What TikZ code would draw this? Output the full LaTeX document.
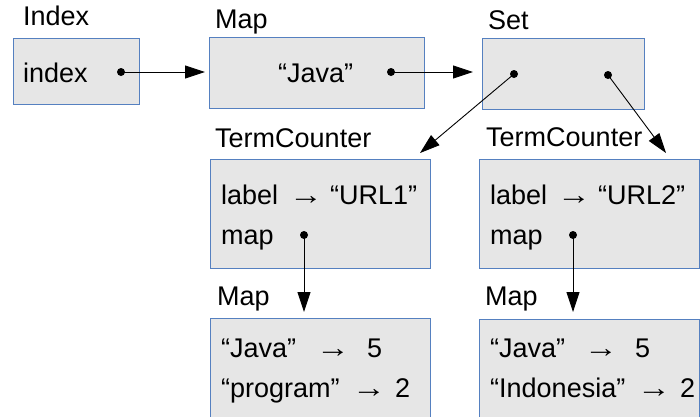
\documentclass[tikz,border=0pt]{standalone}
\usepackage{fontspec}
\setmainfont{Liberation Sans}
\usetikzlibrary{arrows.meta}
\definecolor{boxfill}{HTML}{E6E6E6}
\definecolor{boxline}{HTML}{5580C0}
\newcommand{\rarr}{\scalebox{1.25}[1.05]{→}}
\tikzset{
  objbox/.style={draw=boxline, fill=boxfill, line width=0.9pt},
  txt/.style={anchor=base west, inner sep=0pt, font=\fontsize{27}{32}\selectfont},
  ptr/.style={line width=0.9pt, -{Triangle[length=20pt,width=13pt]}}
}
\begin{document}
\begin{tikzpicture}[x=1pt,y=-1pt]
\useasboundingbox (0,0) rectangle (700,416);
\clip (0,0) rectangle (700,416);
% boxes
\draw[objbox] (13,38) rectangle (139,104);
\draw[objbox] (209,37) rectangle (424,108);
\draw[objbox] (482,38) rectangle (644,109);
\draw[objbox] (210,159) rectangle (430,268);
\draw[objbox] (479,159) rectangle (699,268);
\draw[objbox] (210,318) rectangle (430,440);
\draw[objbox] (479,319) rectangle (699,440);
% titles
\node[txt] (tIndex) at (23,25) {Index};
\node[txt] (tMap) at (215,28) {Map};
\node[txt] (tSet) at (488,29) {Set};
\node[txt] (tTC1) at (215,147) {TermCounter};
\node[txt] (tTC2) at (486,146) {TermCounter};
\node[txt] (tMap1) at (217,305) {Map};
\node[txt] (tMap2) at (485,305) {Map};
% contents
\node[txt] (index) at (23,82) {index};
\node[txt] (java) at (278,82) {“Java”};
\node[txt] (lab1) at (221,204) {label};
\node[txt] (arr1) at (289,204) {\rarr};
\node[txt] (url1) at (330,204) {“URL1”};
\node[txt] (map1) at (221,244) {map};
\node[txt] (lab2) at (490,204) {label};
\node[txt] (arr2) at (557,204) {\rarr};
\node[txt] (url2) at (598,204) {“URL2”};
\node[txt] (map2) at (490,244) {map};
\node[txt] (j1) at (221,357) {“Java”};
\node[txt] (a1) at (316,357) {\rarr};
\node[txt] (v1) at (367,357) {5};
\node[txt] (p1) at (221,397) {“program”};
\node[txt] (a2) at (352,397) {\rarr};
\node[txt] (v2) at (395,397) {2};
\node[txt] (j2) at (490,357) {“Java”};
\node[txt] (a3) at (584,357) {\rarr};
\node[txt] (v3) at (635,357) {5};
\node[txt] (p2) at (490,397) {“Indonesia”};
\node[txt] (a4) at (637,397) {\rarr};
\node[txt] (v4) at (680,397) {2};
% pointer origins
\coordinate (dIndex) at (121,72);
\coordinate (dMap) at (391,72);
\coordinate (dSetL) at (514,74);
\coordinate (dSetR) at (608,75);
\coordinate (dTC1) at (304,235);
\coordinate (dTC2) at (573,235);
% pointer targets
\coordinate (eMap) at (205,72);
\coordinate (eSet) at (473,72);
\coordinate (eTC1) at (420,153);
\coordinate (eTC2) at (666,153);
\coordinate (eMap1) at (304,312);
\coordinate (eMap2) at (573,312);
\foreach \d in {dIndex,dMap,dSetL,dSetR,dTC1,dTC2} \fill (\d) circle (4);
\draw[ptr] (dIndex) -- (eMap);
\draw[ptr] (dMap) -- (eSet);
\draw[ptr] (dSetL) -- (eTC1);
\draw[ptr] (dSetR) -- (eTC2);
\draw[ptr] (dTC1) -- (eMap1);
\draw[ptr] (dTC2) -- (eMap2);
\end{tikzpicture}
\end{document}
